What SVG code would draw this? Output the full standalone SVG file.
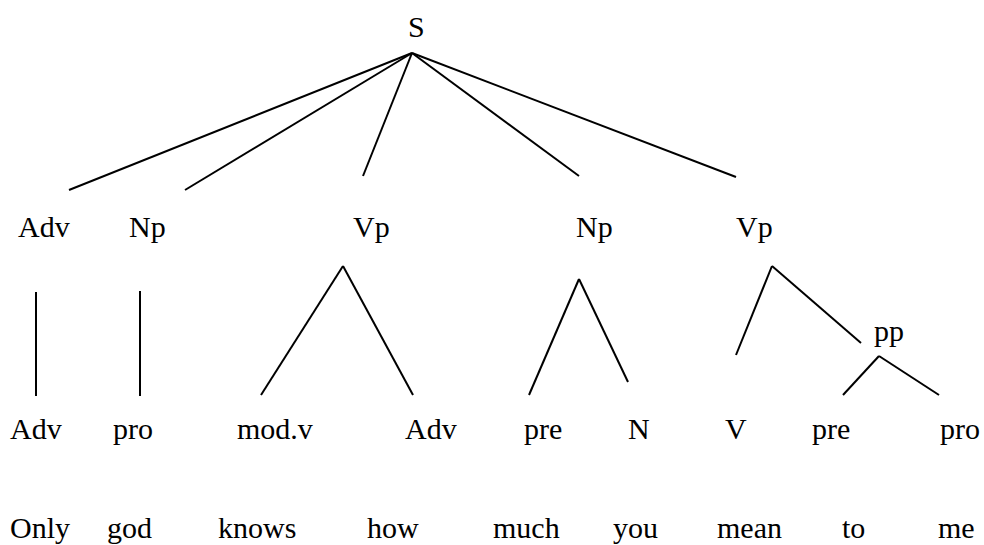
<svg xmlns="http://www.w3.org/2000/svg" width="984" height="545" viewBox="0 0 984 545">
<style>
.e line{stroke:#000;stroke-width:2}
text{font-family:"Liberation Serif","Times New Roman",serif;font-size:30px;fill:#000}
</style>
<rect width="984" height="545" fill="#fff"/>
<g id="connectors" class="e">
<line x1="412" y1="53" x2="69" y2="190"/>
<line x1="412" y1="53" x2="185" y2="190"/>
<line x1="412" y1="53" x2="363" y2="176"/>
<line x1="412" y1="53" x2="579" y2="176"/>
<line x1="412" y1="53" x2="736" y2="177"/>
<line x1="36" y1="292" x2="36" y2="396"/>
<line x1="140" y1="291" x2="140" y2="396"/>
<line x1="343" y1="266" x2="261" y2="395"/>
<line x1="343" y1="266" x2="413" y2="395"/>
<line x1="579" y1="279" x2="529" y2="395"/>
<line x1="579" y1="279" x2="628" y2="382"/>
<line x1="772" y1="266" x2="736" y2="355"/>
<line x1="772" y1="266" x2="861" y2="343"/>
<line x1="879" y1="356" x2="843" y2="395"/>
<line x1="879" y1="356" x2="939" y2="395"/>
</g>
<g id="S"><text x="408" y="37" style="font-family:'Liberation Serif',serif">S</text></g>
<g id="adv1"><text x="18" y="237" style="font-family:'Liberation Serif',serif">Adv</text></g>
<g id="np1"><text x="129" y="237" style="font-family:'Liberation Serif',serif">Np</text></g>
<g id="vp1"><text x="353" y="237" style="font-family:'Liberation Serif',serif">Vp</text></g>
<g id="np2"><text x="576" y="237" style="font-family:'Liberation Serif',serif">Np</text></g>
<g id="vp2"><text x="736" y="237" style="font-family:'Liberation Serif',serif">Vp</text></g>
<g id="pp"><text x="874" y="341" style="font-family:'Liberation Serif',serif">pp</text></g>
<g id="adv2"><text x="10" y="439" style="font-family:'Liberation Serif',serif">Adv</text></g>
<g id="pro1"><text x="113" y="439" style="font-family:'Liberation Serif',serif">pro</text></g>
<g id="modv"><text x="237" y="439" style="font-family:'Liberation Serif',serif">mod.v</text></g>
<g id="adv3"><text x="405" y="439" style="font-family:'Liberation Serif',serif">Adv</text></g>
<g id="pre1"><text x="524" y="439" style="font-family:'Liberation Serif',serif">pre</text></g>
<g id="n1"><text x="628" y="439" style="font-family:'Liberation Serif',serif">N</text></g>
<g id="v1"><text x="725" y="439" style="font-family:'Liberation Serif',serif">V</text></g>
<g id="pre2"><text x="812" y="439" style="font-family:'Liberation Serif',serif">pre</text></g>
<g id="pro2"><text x="940" y="439" style="font-family:'Liberation Serif',serif">pro</text></g>
<g id="w1"><text x="10" y="538" style="font-family:'Liberation Serif',serif">Only</text></g>
<g id="w2"><text x="107" y="538" style="font-family:'Liberation Serif',serif">god</text></g>
<g id="w3"><text x="218" y="538" style="font-family:'Liberation Serif',serif">knows</text></g>
<g id="w4"><text x="367" y="538" style="font-family:'Liberation Serif',serif">how</text></g>
<g id="w5"><text x="493" y="538" style="font-family:'Liberation Serif',serif">much</text></g>
<g id="w6"><text x="613" y="538" style="font-family:'Liberation Serif',serif">you</text></g>
<g id="w7"><text x="717" y="538" style="font-family:'Liberation Serif',serif">mean</text></g>
<g id="w8"><text x="842" y="538" style="font-family:'Liberation Serif',serif">to</text></g>
<g id="w9"><text x="938" y="538" style="font-family:'Liberation Serif',serif">me</text></g>
</svg>
